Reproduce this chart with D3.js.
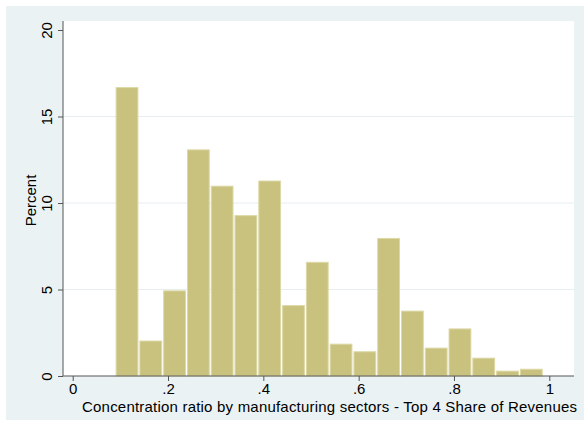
<!DOCTYPE html>
<html>
<head>
<meta charset="utf-8">
<script src="https://cdn.jsdelivr.net/npm/d3@7"></script>
<style>
  body { margin: 0; background: #fff; }
  text { font-family: "Liberation Sans", Arial, sans-serif; fill: #000; }
</style>
</head>
<body>
<svg id="chart"></svg>
<script>
// histogram data (percent per bin)
const binStart = 0.089;
const binWidth = 0.0499;
const percents = [16.7, 2.05, 4.95, 13.1, 11.0, 9.3, 11.3, 4.1, 6.6, 1.87, 1.43, 7.98, 3.78, 1.64, 2.75, 1.06, 0.31, 0.42];
const xTicks = [0, 0.2, 0.4, 0.6, 0.8, 1];
const xTickLabels = ["0", ".2", ".4", ".6", ".8", "1"];
const yTicks = [0, 5, 10, 15, 20];
const yGrid = [5, 10, 15];

const size = { width: 584, height: 428 };
const plot = { left: 63, right: 574, top: 21, bottom: 376 };

const svg = d3.select("#chart")
  .attr("width", size.width)
  .attr("height", size.height);

// outer background
svg.append("rect")
  .attr("x", 6).attr("y", 6)
  .attr("width", size.width - 6).attr("height", 414)
  .attr("fill", "#EAF2F3");

// plot region
svg.append("rect")
  .attr("x", plot.left).attr("y", plot.top)
  .attr("width", plot.right - plot.left).attr("height", plot.bottom - plot.top)
  .attr("fill", "#fff");

const x = d3.scaleLinear().domain([0, 1]).range([72.7, 549.3]);
const y = d3.scaleLinear().domain([0, 20]).range([376, 30]);

// gridlines
svg.selectAll(".grid")
  .data(yGrid)
  .enter().append("line")
  .attr("x1", plot.left).attr("x2", plot.right)
  .attr("y1", d => y(d)).attr("y2", d => y(d))
  .attr("stroke", "#E6EEF0")
  .attr("stroke-width", 1);

// bars
svg.selectAll(".bar")
  .data(percents)
  .enter().append("rect")
  .attr("x", (d, i) => x(binStart + i * binWidth) + 1)
  .attr("y", d => y(d) + 0.5)
  .attr("width", x(binWidth) - x(0) - 2)
  .attr("height", d => y(0) - y(d) - 0.5)
  .attr("fill", "#C9C27F")
  .attr("stroke", "#DDD8A6")
  .attr("stroke-width", 1);

// x axis
const xAxis = d3.axisBottom(x)
  .tickValues(xTicks)
  .tickFormat((d, i) => xTickLabels[i])
  .tickSize(5)
  .tickPadding(2);

const gx = svg.append("g")
  .attr("transform", "translate(0," + plot.bottom + ")")
  .call(xAxis);
gx.select(".domain").remove();
gx.append("line")
  .attr("x1", plot.left).attr("x2", plot.right)
  .attr("y1", 0).attr("y2", 0)
  .attr("stroke", "#555");
gx.selectAll(".tick line").attr("stroke", "#555");
gx.selectAll(".tick text")
  .attr("font-size", 15)
  .style("font-family", "Liberation Sans, Arial, sans-serif")
  .attr("fill", "#000");

// y axis
const yAxis = d3.axisLeft(y)
  .tickValues(yTicks)
  .tickSize(5)
  .tickFormat(d3.format("d"));

const gy = svg.append("g")
  .attr("transform", "translate(" + plot.left + ",0)")
  .call(yAxis);
gy.select(".domain").remove();
gy.append("line")
  .attr("x1", 0).attr("x2", 0)
  .attr("y1", plot.top).attr("y2", plot.bottom)
  .attr("stroke", "#555");
gy.selectAll(".tick line").attr("stroke", "#555");
gy.selectAll(".tick text")
  .attr("x", 0).attr("y", 0).attr("dy", 0)
  .attr("text-anchor", "middle")
  .attr("transform", "translate(-11,0) rotate(-90)")
  .attr("font-size", 15)
  .style("font-family", "Liberation Sans, Arial, sans-serif")
  .attr("fill", "#000");

// axis titles
svg.append("text")
  .attr("x", 82)
  .attr("y", 412)
  .attr("font-size", 15)
  .attr("textLength", 495)
  .attr("lengthAdjust", "spacing")
  .text("Concentration ratio by manufacturing sectors - Top 4 Share of Revenues");

svg.append("text")
  .attr("transform", "translate(36," + ((plot.top + plot.bottom) / 2 + 2) + ") rotate(-90)")
  .attr("text-anchor", "middle")
  .attr("font-size", 15)
  .text("Percent");
</script>
</body>
</html>
